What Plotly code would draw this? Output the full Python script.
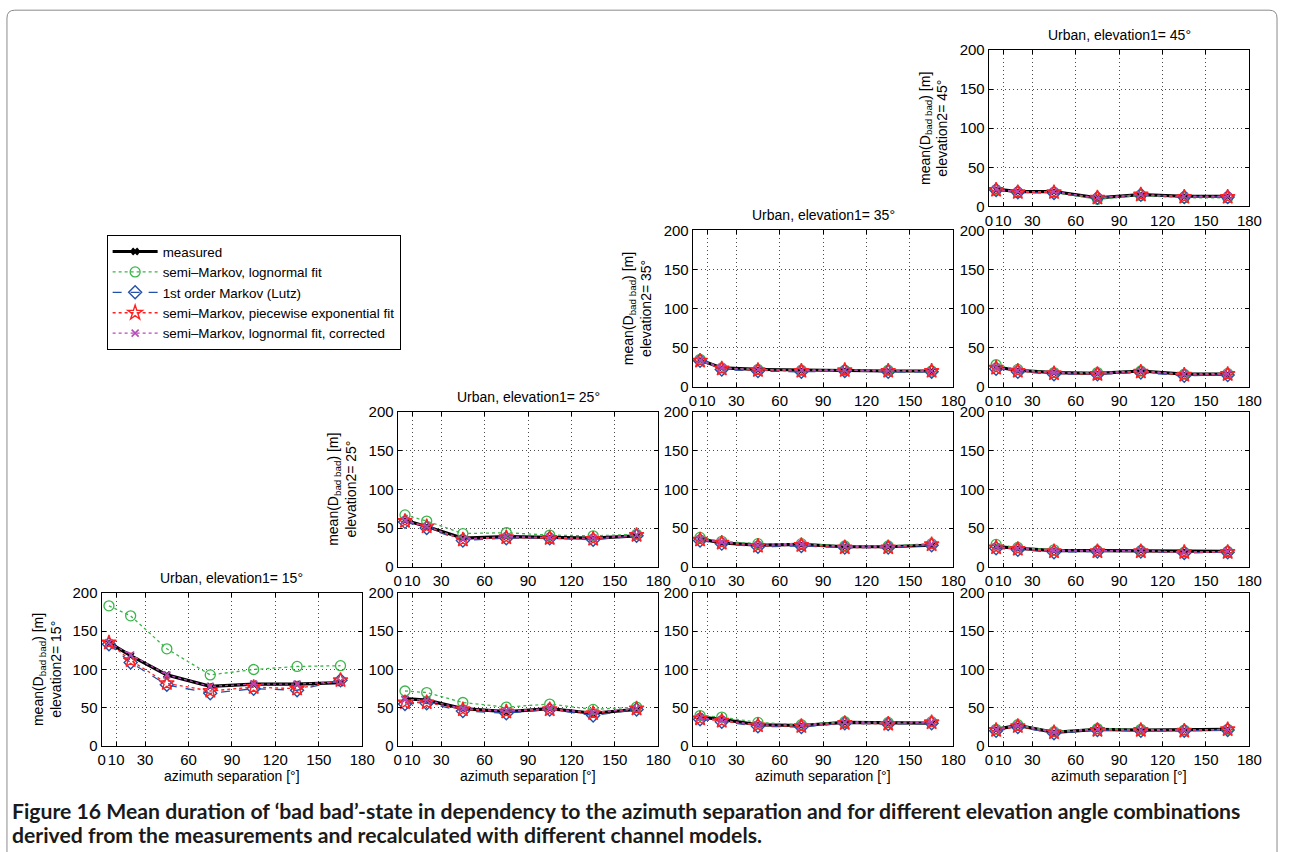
import plotly.graph_objects as go

W, H = 1292, 852

# ---------------- data ----------------
AZIMUTH = [5, 20, 45, 75, 105, 135, 165]
X_TICKS = [0, 10, 30, 60, 90, 120, 150, 180]
Y_TICKS = [0, 50, 100, 150, 200]
ELEVATIONS = [15, 25, 35, 45]

SERIES_NAMES = [
    "measured",
    "semi–Markov, lognormal fit",
    "1st order Markov (Lutz)",
    "semi–Markov, piecewise exponential fit",
    "semi–Markov, lognormal fit, corrected",
]

# elevation1 = 15
MEAS_15_15 = [135, 118, 93, 78, 81, 81, 83]
LOGN_15_15 = [183, 170, 127, 93, 100, 104, 105]
MARK_15_15 = [133, 109, 80, 69, 75, 73, 86]
PEXP_15_15 = [135, 112, 82, 72, 77, 75, 86]
CORR_15_15 = [135, 119, 93, 78, 81, 81, 84]

# elevation1 = 25
MEAS_25_15 = [62, 60, 49, 45, 49, 43, 48]
LOGN_25_15 = [72, 70, 57, 51, 55, 48, 51]
MARK_25_15 = [55, 56, 46, 43, 48, 40, 48]
PEXP_25_15 = [57, 57, 48, 45, 48, 43, 49]
CORR_25_15 = [61, 60, 49, 46, 49, 44, 49]

MEAS_25_25 = [60, 52, 37, 39, 38, 37, 40]
LOGN_25_25 = [67, 59, 43, 44, 41, 40, 42]
MARK_25_25 = [58, 50, 34, 37, 37, 35, 40]
PEXP_25_25 = [59, 52, 35, 38, 37, 36, 41]
CORR_25_25 = [60, 52, 36, 39, 38, 37, 41]

# elevation1 = 35
MEAS_35_15 = [38, 35, 28, 27, 31, 30, 30]
LOGN_35_15 = [40, 38, 31, 28, 32, 31, 32]
MARK_35_15 = [35, 32, 26, 25, 30, 29, 30]
PEXP_35_15 = [36, 33, 27, 26, 30, 29, 31]
CORR_35_15 = [37, 34, 28, 27, 31, 30, 31]

MEAS_35_25 = [36, 31, 28, 29, 26, 26, 28]
LOGN_35_25 = [38, 33, 30, 30, 27, 27, 30]
MARK_35_25 = [34, 30, 26, 27, 25, 25, 28]
PEXP_35_25 = [35, 31, 27, 28, 25, 25, 29]
CORR_35_25 = [36, 32, 28, 29, 26, 26, 29]

MEAS_35_35 = [34, 24, 22, 21, 21, 20, 20]
LOGN_35_35 = [35, 24, 22, 21, 21, 21, 20]
MARK_35_35 = [33, 22, 20, 19, 20, 19, 19]
PEXP_35_35 = [33, 23, 21, 20, 21, 20, 20]
CORR_35_35 = [34, 24, 22, 21, 21, 20, 20]

# elevation1 = 45
MEAS_45_15 = [22, 27, 18, 22, 21, 21, 22]
LOGN_45_15 = [22, 28, 19, 23, 22, 21, 22]
MARK_45_15 = [20, 25, 17, 21, 20, 20, 21]
PEXP_45_15 = [21, 26, 18, 21, 21, 20, 22]
CORR_45_15 = [22, 27, 18, 22, 21, 21, 22]

MEAS_45_25 = [26, 24, 21, 21, 21, 20, 20]
LOGN_45_25 = [29, 25, 22, 21, 21, 19, 20]
MARK_45_25 = [24, 22, 19, 20, 20, 18, 19]
PEXP_45_25 = [25, 23, 20, 20, 20, 19, 19]
CORR_45_25 = [26, 24, 21, 21, 21, 19, 20]

MEAS_45_35 = [25, 21, 18, 17, 20, 16, 16]
LOGN_45_35 = [28, 22, 18, 18, 20, 16, 17]
MARK_45_35 = [23, 19, 16, 16, 18, 14, 15]
PEXP_45_35 = [24, 20, 17, 16, 19, 15, 16]
CORR_45_35 = [25, 21, 18, 17, 20, 16, 16]

MEAS_45_45 = [22, 19, 19, 11, 15, 13, 13]
LOGN_45_45 = [21, 18, 18, 9, 14, 11, 11]
MARK_45_45 = [21, 18, 17, 11, 15, 12, 12]
PEXP_45_45 = [21, 18, 18, 11, 15, 12, 12]
CORR_45_45 = [22, 19, 19, 11, 15, 13, 13]

PANEL_DATA = {
    (15, 15): (MEAS_15_15, LOGN_15_15, MARK_15_15, PEXP_15_15, CORR_15_15),
    (25, 15): (MEAS_25_15, LOGN_25_15, MARK_25_15, PEXP_25_15, CORR_25_15),
    (25, 25): (MEAS_25_25, LOGN_25_25, MARK_25_25, PEXP_25_25, CORR_25_25),
    (35, 15): (MEAS_35_15, LOGN_35_15, MARK_35_15, PEXP_35_15, CORR_35_15),
    (35, 25): (MEAS_35_25, LOGN_35_25, MARK_35_25, PEXP_35_25, CORR_35_25),
    (35, 35): (MEAS_35_35, LOGN_35_35, MARK_35_35, PEXP_35_35, CORR_35_35),
    (45, 15): (MEAS_45_15, LOGN_45_15, MARK_45_15, PEXP_45_15, CORR_45_15),
    (45, 25): (MEAS_45_25, LOGN_45_25, MARK_45_25, PEXP_45_25, CORR_45_25),
    (45, 35): (MEAS_45_35, LOGN_45_35, MARK_45_35, PEXP_45_35, CORR_45_35),
    (45, 45): (MEAS_45_45, LOGN_45_45, MARK_45_45, PEXP_45_45, CORR_45_45),
}

# ---------------- styles / layout ----------------
FONT = "Liberation Sans, Arial, sans-serif"
STYLES = [
    dict(color="#000000", width=3.2, dash="solid", symbol="x", size=7, mlw=0),
    dict(color="#3bb54a", width=1.3, dash="dot", symbol="circle-open", size=10, mlw=1.3),
    dict(color="#2350a8", width=1.3, dash="dash", symbol="diamond-open", size=10, mlw=1.4),
    dict(color="#ff2020", width=1.3, dash="dot", symbol="star-open", size=11, mlw=1.4),
    dict(color="#b94ab9", width=1.3, dash="dot", symbol="x-thin-open", size=7, mlw=1.6),
]

COL_X = [(99, 363), (399, 663), (698, 962), (998, 1262)]
ROW_Y = [(593, 747), (411, 567), (229, 386), (48, 205)]

# vertical calibration between target pixel rows and the photographed page
YS, YC = 0.984, 426.0


def px_x(v):
    return v / W


def px_y(v):
    v = YC + (v - YC) / YS
    return 1 - v / H


fig = go.Figure()
layout = dict(
    width=W, height=H,
    margin=dict(l=0, r=0, t=0, b=0),
    paper_bgcolor="white", plot_bgcolor="white",
    font=dict(family=FONT, size=14, color="black"),
    showlegend=True,
    legend=dict(
        x=px_x(104), y=px_y(234), xanchor="left", yanchor="top",
        bordercolor="black", borderwidth=1, bgcolor="white",
        font=dict(family=FONT, size=13.4, color="black"),
        itemwidth=45, tracegroupgap=0,
    ),
)
annotations = []

for k, ((e1, e2), series) in enumerate(PANEL_DATA.items()):
    idx = k + 1
    sfx = "" if idx == 1 else str(idx)
    ci = ELEVATIONS.index(e1)
    ri = ELEVATIONS.index(e2)
    x0, x1 = COL_X[ci]
    top, bot = ROW_Y[ri]
    axis_common = dict(
        showline=True, mirror="ticks", linecolor="black", linewidth=1.3,
        ticks="inside", ticklen=4, tickcolor="black", tickwidth=1,
        showgrid=True, gridcolor="#4a4a4a", gridwidth=1, griddash="1px,3px",
        zeroline=False, tickangle=0,
        tickfont=dict(family=FONT, size=15, color="black"),
        fixedrange=True,
    )
    layout["xaxis" + sfx] = dict(
        axis_common, domain=[px_x(x0), px_x(x1)], range=[0, 180],
        tickmode="array", tickvals=X_TICKS, ticktext=[str(t) for t in X_TICKS],
        anchor="y" + sfx,
    )
    layout["yaxis" + sfx] = dict(
        axis_common, domain=[px_y(bot), px_y(top)], range=[0, 200],
        tickmode="array", tickvals=Y_TICKS, ticktext=[str(t) for t in Y_TICKS],
        anchor="x" + sfx,
    )
    for s, (name, vals, st) in enumerate(zip(SERIES_NAMES, series, STYLES)):
        fig.add_trace(go.Scatter(
            x=AZIMUTH, y=vals, name=name, mode="lines+markers",
            xaxis="x" + sfx, yaxis="y" + sfx,
            showlegend=(idx == 1), legendgroup=name,
            line=dict(color=st["color"], width=st["width"], dash=st["dash"]),
            marker=dict(symbol=st["symbol"], size=st["size"], color=st["color"],
                        line=dict(color=st["color"], width=st["mlw"])),
        ))
    cx = (x0 + x1) / 2
    if e1 == e2:
        annotations.append(dict(
            text=f"Urban, elevation1= {e1}°", xref="paper", yref="paper",
            x=px_x(cx), y=px_y(top - 15), xanchor="center", yanchor="middle",
            showarrow=False, font=dict(family=FONT, size=14, color="black"),
        ))
        cy = (top + bot) / 2
        annotations.append(dict(
            text="mean(D<sub>bad bad</sub>) [m]", xref="paper", yref="paper",
            x=px_x(x0 - 64), y=px_y(cy), xanchor="center", yanchor="middle",
            textangle=-90, showarrow=False,
            font=dict(family=FONT, size=14, color="black"),
        ))
        annotations.append(dict(
            text=f"elevation2= {e2}°", xref="paper", yref="paper",
            x=px_x(x0 - 47), y=px_y(cy), xanchor="center", yanchor="middle",
            textangle=-90, showarrow=False,
            font=dict(family=FONT, size=14, color="black"),
        ))
    if e2 == 15:
        annotations.append(dict(
            text="azimuth separation [°]", xref="paper", yref="paper",
            x=px_x(cx), y=px_y(777), xanchor="center", yanchor="middle",
            showarrow=False, font=dict(family=FONT, size=14, color="black"),
        ))

CAPTION_1 = ("<b>Figure 16 Mean duration of ‘bad bad’-state in dependency to the azimuth "
             "separation and for different elevation angle combinations</b>")
CAPTION_2 = "<b>derived from the measurements and recalculated with different channel models.</b>"
for txt, yy in ((CAPTION_1, 812), (CAPTION_2, 836)):
    annotations.append(dict(
        text=txt, xref="paper", yref="paper", x=px_x(6), y=px_y(yy),
        xanchor="left", yanchor="middle", showarrow=False,
        font=dict(family="Lato, sans-serif", size=21.2, color="#1a1a1a"),
    ))

layout["annotations"] = annotations

# figure frame (rounded top corners)
fx0, fx1 = px_x(3), px_x(1290)
fyt = px_y(8)
rx, ry = 8 / W, 8 / H
path = (f"M {fx0},-0.05 L {fx0},{fyt - ry} Q {fx0},{fyt} {fx0 + rx},{fyt} "
        f"L {fx1 - rx},{fyt} Q {fx1},{fyt} {fx1},{fyt - ry} L {fx1},-0.05")
layout["shapes"] = [dict(type="path", path=path, xref="paper", yref="paper",
                         line=dict(color="#8a8a8a", width=1))]

fig.update_layout(**layout)
fig.write_html("out.html")
